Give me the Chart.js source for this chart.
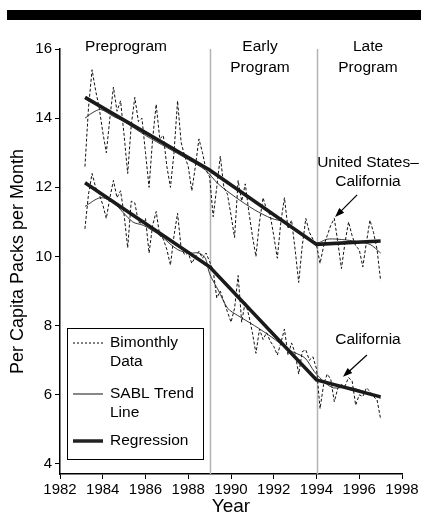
<!DOCTYPE html>
<html>
<head>
<meta charset="utf-8">
<script src="https://cdn.jsdelivr.net/npm/chart.js@4"></script>
<style>
  body { margin: 0; background: #fff; }
  canvas { display: block; }
</style>
</head>
<body>
<canvas id="smokeChart" width="421" height="516"></canvas>
<script>
// Bimonthly data, one row per year (first bimester of the year .. first of next)
const startYear = 1983;
const usBimonthly = [
  12.6, 14.3, 15.4, 14.8, 14.3, 13.6,
  13.0, 14.0, 14.9, 14.2, 14.5, 13.5,
  12.4, 13.8, 14.6, 13.9, 14.0, 13.0,
  12.0, 13.4, 14.4, 13.4, 13.5, 12.6,
  12.0, 13.0, 14.5, 13.3, 12.9, 12.6,
  11.9, 12.6, 13.4, 13.0, 12.5, 12.3,
  11.15, 12.0, 12.9, 12.0, 11.8, 11.2,
  10.55, 12.2, 11.6, 12.1, 11.3, 10.6,
  10.0, 11.0, 11.7, 11.35, 11.2, 10.6,
  9.95, 11.0, 11.7, 10.8, 11.05, 10.2,
  9.25, 10.3, 11.1, 10.7, 10.5, 10.33,
  9.8, 10.3, 10.6, 10.9, 11.1, 10.4,
  9.65, 10.4, 11.0, 10.6, 10.3, 10.2,
  9.7, 10.4, 11.05, 10.7, 10.2, 9.3
];
const caBimonthly = [
  10.8, 11.8, 12.4, 12.0, 11.8, 11.5,
  11.1, 11.7, 12.2, 11.7, 11.9, 11.2,
  10.25, 11.6, 11.55, 11.0, 10.95, 11.1,
  10.1, 10.9, 11.3, 10.6, 10.5, 10.2,
  9.75, 10.6, 11.25, 10.25, 10.05, 10.1,
  9.8, 10.0, 10.15, 9.95, 10.1, 9.85,
  9.6, 8.8, 9.0, 8.7, 8.4, 8.1,
  8.5, 9.45, 8.1, 8.7, 8.3, 7.8,
  7.2, 7.9, 7.6, 7.8, 7.55, 7.4,
  7.15, 7.5, 7.9, 7.15, 7.5, 7.2,
  6.6, 7.25, 7.3, 7.0, 7.1, 6.75,
  5.6, 6.3, 6.6, 6.45, 5.8, 6.2,
  6.3, 6.25, 6.5, 6.4, 5.7, 6.0,
  5.95, 6.2, 6.1, 5.95, 5.85, 5.3
];

// SABL trend lines
const usTrendYears = [1983.17, 1983.5, 1983.9, 1984.5, 1985, 1986, 1987, 1988, 1988.8, 1989.4, 1990.2, 1991.1, 1991.9, 1992.5, 1993, 1994, 1994.5, 1995, 1995.7, 1996.5, 1997];
const usTrend = [14.0, 14.15, 14.25, 14.05, 13.9, 13.5, 13.15, 12.8, 12.5, 12.1, 11.72, 11.35, 11.1, 11.0, 10.8, 10.4, 10.5, 10.5, 10.45, 10.35, 10.1];
const caTrendYears = [1983.17, 1983.9, 1984.5, 1985.4, 1985.9, 1986.7, 1987.5, 1988.1, 1988.5, 1988.8, 1989, 1989.4, 1989.85, 1990.3, 1991.1, 1991.9, 1992.7, 1993.45, 1993.9, 1994.4, 1994.8, 1995.5, 1996.3, 1997];
const caTrend = [11.45, 11.7, 11.55, 11.0, 10.9, 10.6, 10.2, 10.1, 10.1, 9.95, 9.5, 9.03, 8.5, 8.3, 8.0, 7.67, 7.3, 7.07, 6.67, 6.35, 6.2, 6.22, 6.08, 5.9];

// Piecewise regression (preprogram, early, late)
const regressionYears = [1983.17, 1989, 1994, 1997];
const usRegression = [14.6, 12.5, 10.35, 10.45];
const caRegression = [12.13, 9.7, 6.43, 5.94];

// Program phases
const phaseBreaks = [1989, 1994];
const phaseLabels = [['Preprogram'], ['Early', 'Program'], ['Late', 'Program']];

const yTicks = [4, 6, 8, 10, 12, 14, 16];

const FONT = "'Liberation Sans', Arial, sans-serif";

function toPoints(xs, ys) {
  return ys.map((y, i) => ({ x: xs[i], y }));
}
const bimonthlyYears = usBimonthly.map((_, i) => startYear + (i + 1) / 6);

// Extra drawing: top bar, phase lines, labels, arrows, legend
const decorPlugin = {
  id: 'decor',
  beforeDraw(chart) {
    const ctx = chart.ctx;
    ctx.save();
    ctx.fillStyle = '#fff';
    ctx.fillRect(0, 0, chart.width, chart.height);
    ctx.fillStyle = '#000';
    ctx.fillRect(7, 10, chart.width - 7, 10);
    ctx.restore();
  },
  beforeDatasetsDraw(chart) {
    const ctx = chart.ctx;
    const xs = chart.scales.x;
    const area = chart.chartArea;
    ctx.save();
    ctx.strokeStyle = '#b4b4b4';
    ctx.lineWidth = 1.5;
    phaseBreaks.forEach(year => {
      const px = Math.round(xs.getPixelForValue(year)) + 0.5;
      ctx.beginPath();
      ctx.moveTo(px, area.top);
      ctx.lineTo(px, area.bottom);
      ctx.stroke();
    });
    ctx.restore();
  },
  afterDraw(chart) {
    const ctx = chart.ctx;
    const xs = chart.scales.x;
    const ys = chart.scales.y;
    ctx.save();
    ctx.fillStyle = '#000';
    ctx.font = '15.5px ' + FONT;
    ctx.textAlign = 'center';
    ctx.textBaseline = 'middle';

    // phase labels
    const labelX = [126, 260, 368];
    phaseLabels.forEach((lines, i) => {
      lines.forEach((line, j) => ctx.fillText(line, labelX[i], 47 + j * 21));
    });

    // series annotations
    ctx.fillText('United States\u2013', 368, 163);
    ctx.fillText('California', 368, 182);
    ctx.fillText('California', 368, 340);

    drawArrow(ctx, xs.getPixelForValue(1995.9), ys.getPixelForValue(11.78),
                   xs.getPixelForValue(1994.87), ys.getPixelForValue(11.14));
    drawArrow(ctx, xs.getPixelForValue(1996.36), ys.getPixelForValue(7.15),
                   xs.getPixelForValue(1995.24), ys.getPixelForValue(6.52));

    // legend box
    ctx.strokeStyle = '#000';
    ctx.lineWidth = 1;
    ctx.strokeRect(67.5, 328.5, 136, 131);
    ctx.textAlign = 'left';
    const items = [
      { lines: ['Bimonthly', 'Data'], y: 343, dash: [2, 2], width: 1, color: '#000' },
      { lines: ['SABL Trend', 'Line'], y: 394, dash: [], width: 2, color: '#888' },
      { lines: ['Regression'], y: 441, dash: [], width: 3.5, color: '#222' }
    ];
    items.forEach(item => {
      ctx.save();
      ctx.strokeStyle = item.color;
      ctx.lineWidth = item.width;
      ctx.setLineDash(item.dash);
      ctx.beginPath();
      ctx.moveTo(73, item.y);
      ctx.lineTo(103, item.y);
      ctx.stroke();
      ctx.restore();
      item.lines.forEach((line, j) => ctx.fillText(line, 110, item.y + j * 19));
    });
    ctx.restore();
  }
};

function drawArrow(ctx, x1, y1, x2, y2) {
  const angle = Math.atan2(y2 - y1, x2 - x1);
  const head = 10;
  ctx.save();
  ctx.strokeStyle = '#000';
  ctx.fillStyle = '#000';
  ctx.lineWidth = 1.2;
  ctx.beginPath();
  ctx.moveTo(x1, y1);
  ctx.lineTo(x2 - Math.cos(angle) * head * 0.8, y2 - Math.sin(angle) * head * 0.8);
  ctx.stroke();
  ctx.beginPath();
  ctx.moveTo(x2, y2);
  ctx.lineTo(x2 - head * Math.cos(angle - 0.35), y2 - head * Math.sin(angle - 0.35));
  ctx.lineTo(x2 - head * Math.cos(angle + 0.35), y2 - head * Math.sin(angle + 0.35));
  ctx.closePath();
  ctx.fill();
  ctx.restore();
}

const regressionStyle = { borderColor: '#1a1a1a', borderWidth: 3.6, pointRadius: 0, tension: 0 };
const trendStyle = { borderColor: '#222', borderWidth: 0.9, pointRadius: 0, tension: 0.3 };
const bimonthlyStyle = { borderColor: '#111', borderWidth: 1, borderDash: [3, 2], pointRadius: 0, tension: 0 };

const ctx = document.getElementById('smokeChart').getContext('2d');
new Chart(ctx, {
  type: 'line',
  data: {
    datasets: [
      { label: 'US regression', data: toPoints(regressionYears, usRegression), ...regressionStyle },
      { label: 'CA regression', data: toPoints(regressionYears, caRegression), ...regressionStyle },
      { label: 'US SABL', data: toPoints(usTrendYears, usTrend), ...trendStyle },
      { label: 'CA SABL', data: toPoints(caTrendYears, caTrend), ...trendStyle },
      { label: 'US bimonthly', data: toPoints(bimonthlyYears, usBimonthly), ...bimonthlyStyle },
      { label: 'CA bimonthly', data: toPoints(bimonthlyYears, caBimonthly), ...bimonthlyStyle }
    ]
  },
  options: {
    responsive: false,
    animation: false,
    layout: { padding: { top: 49, right: 19, left: 0, bottom: 0 } },
    plugins: {
      legend: { display: false },
      tooltip: { enabled: false }
    },
    scales: {
      x: {
        type: 'linear',
        min: 1982,
        max: 1998,
        afterFit: scale => { scale.height = 42; },
        grid: { drawOnChartArea: false, drawTicks: true, tickLength: 5, color: '#000' },
        border: { display: true, color: '#000', width: 1.5 },
        ticks: {
          stepSize: 2,
          color: '#000',
          padding: 2,
          maxRotation: 0,
          font: { family: FONT, size: 15 },
          callback: v => String(v)
        },
        title: {
          display: true,
          text: 'Year',
          color: '#000',
          font: { family: FONT, size: 19, lineHeight: 1 },
          padding: 0
        }
      },
      y: {
        type: 'linear',
        min: 3.71,
        max: 16,
        afterFit: scale => { scale.width = 60; },
        afterBuildTicks: scale => { scale.ticks = yTicks.map(v => ({ value: v })); },
        grid: { drawOnChartArea: false, drawTicks: true, tickLength: 5, color: '#000' },
        border: { display: true, color: '#000', width: 1.5 },
        ticks: {
          color: '#000',
          padding: 3,
          font: { family: FONT, size: 15 }
        },
        title: {
          display: true,
          text: 'Per Capita Packs per Month',
          color: '#000',
          font: { family: FONT, size: 18, lineHeight: 1.2 },
          padding: { top: 7, bottom: 0 }
        }
      }
    }
  },
  plugins: [decorPlugin]
});
</script>
</body>
</html>
